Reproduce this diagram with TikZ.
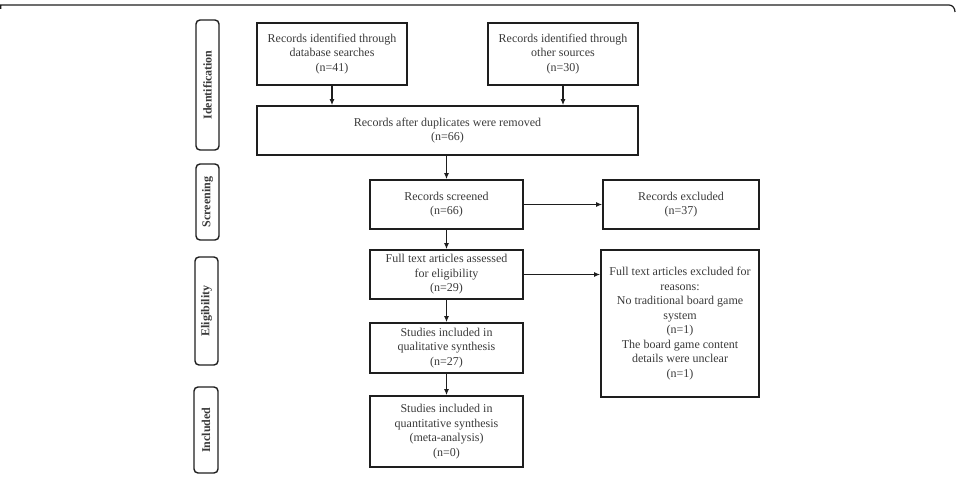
\documentclass[tikz,border=0pt]{standalone}
\usepackage{fontspec}
\setmainfont{Liberation Serif}
\usetikzlibrary{arrows.meta}
\definecolor{txt}{HTML}{3A3A3A}
\definecolor{ln}{HTML}{1E1E1E}
\tikzset{
  box/.style={draw=ln, line width=1.6pt, align=center, text=txt, inner sep=0pt,
    font=\fontsize{12}{14.5}\selectfont},
  side/.style={draw=ln, line width=1.4pt, rounded corners=4pt, rotate=90, inner sep=0pt,
    text=txt, font=\fontsize{12}{14.5}\selectfont\bfseries},
  arr/.style={draw=ln, line width=1.2pt, -{Latex[length=6pt,width=5pt]}}
}
\begin{document}
\begin{tikzpicture}[x=1pt,y=-1pt]
\useasboundingbox (0,0) rectangle (957,478);
% frame top
\draw[ln, line width=1.2pt] (0.7,9) -- (0.7,5) -- (949,5) to[out=0,in=90] (955,12);
% side labels
\node[side, minimum width=130pt, minimum height=23pt] (sid) at (207.5,85) {Identification};
\node[side, minimum width=76pt, minimum height=23pt] (sscr) at (207.5,202) {Screening};
\node[side, minimum width=108pt, minimum height=23pt] (selig) at (206.5,311) {Eligibility};
\node[side, minimum width=86pt, minimum height=24pt] (sincl) at (206,430) {Included};
% boxes
\node[box, minimum width=150pt, minimum height=62pt] (db) at (332,54)
  {Records identified through\\database searches\\(n=41)};
\node[box, minimum width=150pt, minimum height=62pt] (os) at (563,54)
  {Records identified through\\other sources\\(n=30)};
\node[box, minimum width=381pt, minimum height=49pt] (dup) at (447.5,130.5)
  {Records after duplicates were removed\\(n=66)};
\node[box, minimum width=153pt, minimum height=49pt] (scr) at (446.5,204.5)
  {Records screened\\(n=66)};
\node[box, minimum width=153pt, minimum height=49pt] (ft) at (446.5,274.5)
  {Full text articles assessed\\for eligibility\\(n=29)};
\node[box, minimum width=153pt, minimum height=50pt] (qual) at (446.5,348)
  {Studies included in\\qualitative synthesis\\(n=27)};
\node[box, minimum width=153pt, minimum height=71pt] (quant) at (446.5,431.5)
  {Studies included in\\quantitative synthesis\\(meta-analysis)\\(n=0)};
\node[box, minimum width=156pt, minimum height=49pt] (exc) at (681,204.5)
  {Records excluded\\(n=37)};
\node[box, minimum width=158pt, minimum height=147pt] (ftexc) at (680,323.5)
  {Full text articles excluded for\\reasons:\\No traditional board game\\system\\(n=1)\\The board game content\\details were unclear\\(n=1)};
% arrows
\draw[arr] (db.south) -- (db.south |- dup.north);
\draw[arr] (os.south) -- (os.south |- dup.north);
\draw[arr] (dup.south -| scr.north) -- (scr.north);
\draw[arr] (scr.south) -- (ft.north);
\draw[arr] (ft.south) -- (qual.north);
\draw[arr] (qual.south) -- (quant.north);
\draw[arr] (scr.east) -- (exc.west);
\draw[arr] (ft.east) -- (ft.east -| ftexc.west);
\end{tikzpicture}
\end{document}
